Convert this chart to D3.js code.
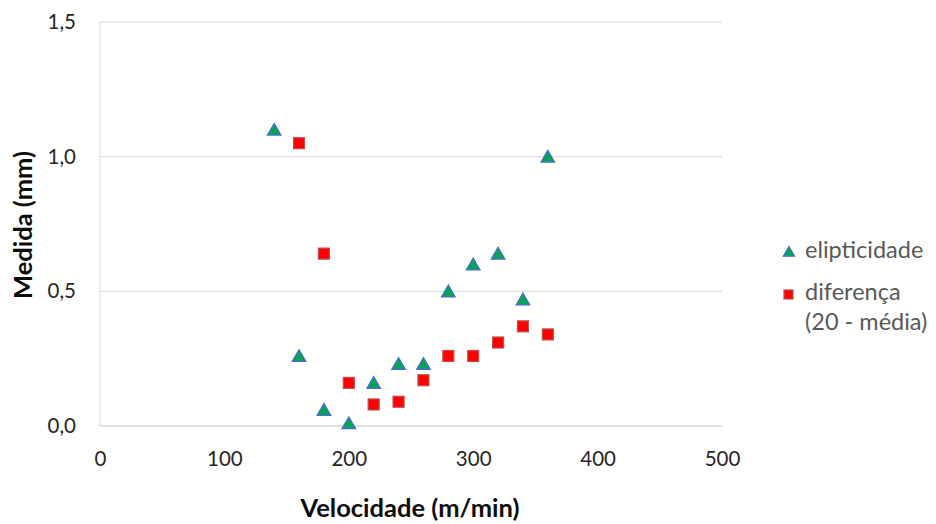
<!DOCTYPE html>
<html>
<head>
<meta charset="utf-8">
<script src="https://cdn.jsdelivr.net/npm/d3@7"></script>
<style>
  body { margin: 0; background: #fff; }
  svg text { font-family: Lato, "Open Sans", sans-serif; }
</style>
</head>
<body>
<svg id="chart" width="936" height="524"></svg>
<script>
// Velocidade (m/min) for each measurement
const velocidade = [140, 160, 180, 200, 220, 240, 260, 280, 300, 320, 340, 360];
// elipticidade (mm)
const elipticidade = [1.10, 0.26, 0.06, 0.01, 0.16, 0.23, 0.23, 0.50, 0.60, 0.64, 0.47, 1.00];
// diferença (20 - média), mm — starts at 160 m/min
const velocidadeDif = [160, 180, 200, 220, 240, 260, 280, 300, 320, 340, 360];
const diferenca = [1.05, 0.64, 0.16, 0.08, 0.09, 0.17, 0.26, 0.26, 0.31, 0.37, 0.34];

const xTicks = [0, 100, 200, 300, 400, 500];
const yTicks = [0, 0.5, 1.0, 1.5];

const svg = d3.select("#chart");
const plot = { left: 100, right: 722, top: 22, bottom: 426 };

const x = d3.scaleLinear().domain([0, 500]).range([plot.left, plot.right]);
const y = d3.scaleLinear().domain([0, 1.5]).range([plot.bottom, plot.top]);
const fmtY = v => d3.format(".1f")(v).replace(".", ",");

// horizontal gridlines
svg.append("g")
  .selectAll("line")
  .data(yTicks.filter(d => d > 0))
  .join("line")
  .attr("x1", plot.left).attr("x2", plot.right)
  .attr("y1", d => y(d)).attr("y2", d => y(d))
  .attr("stroke", "#d9d9d9").attr("stroke-width", 1);

// axis lines
svg.append("line")
  .attr("x1", plot.left).attr("x2", plot.left)
  .attr("y1", plot.top).attr("y2", plot.bottom)
  .attr("stroke", "#d9d9d9").attr("stroke-width", 1);
svg.append("line")
  .attr("x1", plot.left).attr("x2", plot.right)
  .attr("y1", plot.bottom).attr("y2", plot.bottom)
  .attr("stroke", "#bfbfbf").attr("stroke-width", 1);

// y axis labels
const yAxis = d3.axisLeft(y).tickValues(yTicks).tickFormat(fmtY).tickSize(0).tickPadding(24);
const gy = svg.append("g").attr("transform", `translate(${plot.left},0)`).call(yAxis);
gy.select(".domain").remove();
gy.selectAll("text").attr("font-size", 20.5).attr("fill", "#262626")
  .style("font-family", "Lato, sans-serif");

// x axis labels
const xAxis = d3.axisBottom(x).tickValues(xTicks).tickFormat(d3.format("d")).tickSize(0).tickPadding(25);
const gx = svg.append("g").attr("transform", `translate(0,${plot.bottom})`).call(xAxis);
gx.select(".domain").remove();
gx.selectAll("text").attr("font-size", 20.5).attr("fill", "#262626")
  .style("font-family", "Lato, sans-serif");

// axis titles
svg.append("text")
  .attr("x", 410).attr("y", 517)
  .attr("text-anchor", "middle")
  .attr("font-size", 25.5).attr("font-weight", "bold").attr("fill", "#0d0d0d")
  .text("Velocidade (m/min)");
svg.append("text")
  .attr("transform", `translate(32,225) rotate(-90)`)
  .attr("text-anchor", "middle")
  .attr("font-size", 25.5).attr("font-weight", "bold").attr("fill", "#0d0d0d")
  .text("Medida (mm)");

const tri = d3.symbol().type(d3.symbolTriangle).size(75);

// diferença squares
svg.append("g")
  .selectAll("rect")
  .data(velocidadeDif.map((v, i) => [v, diferenca[i]]))
  .join("rect")
  .attr("x", d => x(d[0]) - 5.5).attr("y", d => y(d[1]) - 5.5)
  .attr("width", 11).attr("height", 11)
  .attr("fill", "#ff0000").attr("stroke", "#c0504d").attr("stroke-width", 1.2);

// elipticidade triangles
svg.append("g")
  .selectAll("path")
  .data(velocidade.map((v, i) => [v, elipticidade[i]]))
  .join("path")
  .attr("d", tri)
  .attr("transform", d => `translate(${x(d[0])},${y(d[1]) + 1.5})`)
  .attr("fill", "#00a651").attr("stroke", "#4472c4").attr("stroke-width", 1.5);

// legend
const lg = svg.append("g");
lg.append("path").attr("d", tri)
  .attr("transform", "translate(789,253) scale(0.85)")
  .attr("fill", "#00a651").attr("stroke", "#4472c4").attr("stroke-width", 1.5);
lg.append("text").attr("x", 805).attr("y", 258)
  .attr("font-size", 23.5).attr("fill", "#595959").text("elipticidade");
lg.append("rect").attr("x", 784).attr("y", 290).attr("width", 9).attr("height", 9)
  .attr("fill", "#ff0000").attr("stroke", "#c0504d").attr("stroke-width", 1.2);
lg.append("text").attr("x", 805).attr("y", 300)
  .attr("font-size", 23.5).attr("fill", "#595959").text("diferença");
lg.append("text").attr("x", 805).attr("y", 330)
  .attr("font-size", 23.5).attr("fill", "#595959").text("(20 - média)");
</script>
</body>
</html>
